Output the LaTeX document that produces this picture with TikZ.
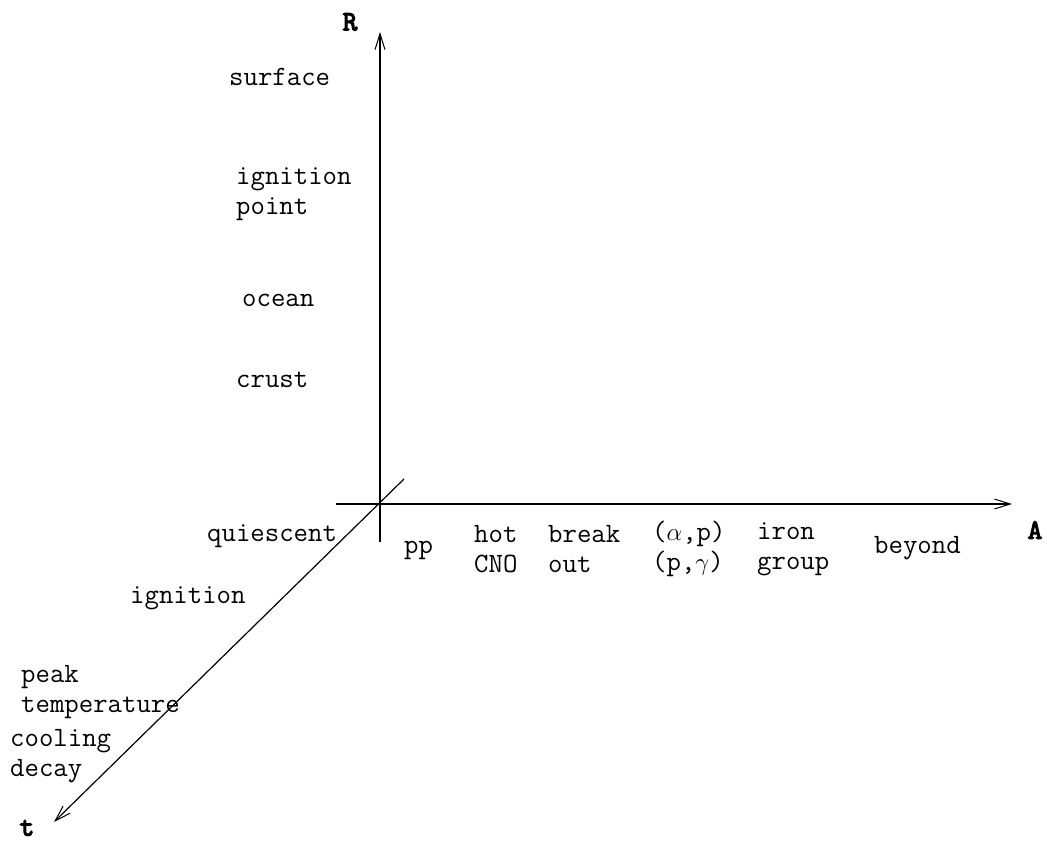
\documentclass[tikz,border=0pt]{standalone}
\usepackage{fontspec}
\newfontfamily\axisfont[FakeBold=4]{lmmono10-regular.otf}
\usetikzlibrary{arrows.meta}
\begin{document}
\begin{tikzpicture}[x=1pt,y=-1pt,
  lbl/.style={anchor=west,inner sep=0pt,align=left,font=\fontsize{28}{30}\selectfont\ttfamily},
  axlbl/.style={inner sep=0pt,font=\fontsize{28}{30}\selectfont\axisfont},
  axis/.style={line width=1.2pt,-{Straight Barb[length=16pt,width=10pt,line width=1pt]}}]
\useasboundingbox (0,0) rectangle (1047,842);
\coordinate (O) at (380,504);
\coordinate (Rtop) at (380,32);
\coordinate (Rbot) at (380,542);
\coordinate (Aleft) at (336,504);
\coordinate (Aright) at (1012,504);
\coordinate (Tup) at (404,479);
\coordinate (Tdown) at (54,822);
\draw[axis] (Rbot) -- (Rtop);
\draw[axis] (Aleft) -- (Aright);
\draw[axis] (Tup) -- (Tdown);
\node[axlbl] (R) at (350,22) {R};
\node[axlbl] (A) at (1035,530) {A};
\node[axlbl] (t) at (27,828) {t};
\node[lbl] (surface) at (229,77) {surface};
\node[lbl] (ign) at (236,194) {ignition\\point};
\node[lbl] (ocean) at (242,300) {ocean};
\node[lbl] (crust) at (236,380) {crust};
\node[lbl] (quies) at (207,536) {quiescent};
\node[lbl] (ignition) at (130,598) {ignition};
\node[lbl] (peak) at (21,692) {peak\\temperature};
\node[lbl] (cool) at (10,756) {cooling\\decay};
\node[lbl] (pp) at (404,550) {pp};
\node[lbl] (hot) at (474,549) {hot\\CNO};
\node[lbl] (break) at (548,549) {break\\out};
\node[lbl] (ap) at (652,549) {($\alpha$,p)\\(p,$\gamma$)};
\node[lbl] (iron) at (757,549) {iron\\group};
\node[lbl] (beyond) at (874,548) {beyond};
\end{tikzpicture}
\end{document}
